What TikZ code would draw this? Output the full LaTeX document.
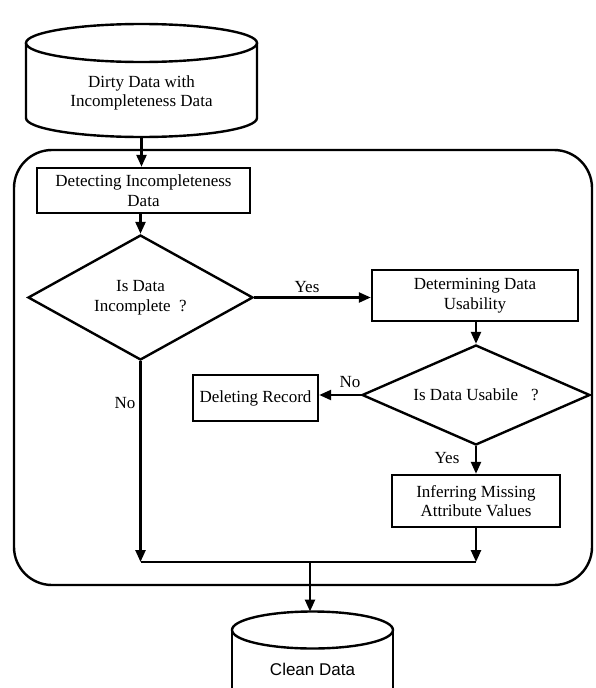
\documentclass[tikz,border=0pt]{standalone}
\usepackage{fontspec}
\setmainfont{Liberation Serif}
\newfontfamily\arialfont{Liberation Sans}
\usetikzlibrary{shapes.geometric,arrows.meta}
\begin{document}
\begin{tikzpicture}[x=1pt,y=-1pt,
  line width=2.4pt,
  every node/.style={font=\fontsize{17}{19.5}\selectfont},
  box/.style={draw, rectangle, inner sep=0pt, align=center},
  decision/.style={draw, diamond, inner sep=0pt, align=center},
  arr/.style={-{Triangle[length=12pt,width=10pt]}},
  lbl/.style={inner sep=0pt}]
\useasboundingbox (0,0) rectangle (595,688);
\clip (0,0) rectangle (595,688);

% container
\draw[rounded corners=38pt] (14,150) rectangle (592,585);

% top cylinder
\draw (26,43) -- (26,118) arc[start angle=180, end angle=0, x radius=115.5, y radius=19] -- (257,43);
\draw (141.5,43) ellipse[x radius=115.5, y radius=19];
\node[align=center] (dirty) at (141.5,93) {Dirty Data with\\Incompleteness Data};
\coordinate (dirtybot) at (141.5,137);

% bottom cylinder
\draw (232,630) -- (232,720);
\draw (393,630) -- (393,720);
\draw (312.5,630) ellipse[x radius=80.5, y radius=18.5];
\node[font=\arialfont\fontsize{17}{19}\selectfont] (clean) at (312.5,669) {Clean Data};
\coordinate (cleantop) at (310,611.5);

% process nodes
\node[box, minimum width=213pt, minimum height=45pt] (detect) at (143.5,190.5) {Detecting Incompleteness\\Data};
\node[decision, aspect=1.8, minimum width=225pt, minimum height=125pt] (inc) at (140.5,297.5) {Is Data\\Incomplete\ \ ?};
\node[box, minimum width=206pt, minimum height=51pt] (usab) at (475,295.5) {Determining Data\\Usability};
\node[decision, aspect=2.28, minimum width=228pt, minimum height=100pt] (usable) at (476,395) {Is Data Usabile\ \ \ ?};
\node[box, minimum width=125pt, minimum height=46pt] (del) at (255.5,398) {Deleting Record};
\node[box, minimum width=168pt, minimum height=52pt] (infer) at (476,501) {Inferring Missing\\Attribute Values};

\coordinate (jl) at (140.5,562);
\coordinate (jr) at (476,562);
\coordinate (jm) at (310,562);

% connectors
\draw[arr] (dirtybot) -- (dirtybot |- detect.north);
\draw[arr] (inc.north |- detect.south) -- (inc.north);
\draw[arr] (inc.east) -- (inc.east -| usab.west);
\draw[arr] (usab.south -| usable.north) -- (usable.north);
\draw[arr] (usable.west) -- (usable.west -| del.east);
\draw[arr] (usable.south) -- (infer.north);
\draw[arr] (infer.south) -- (jr);
\draw[arr] (inc.south) -- (jl);
\draw (jl) -- (jr);
\draw[arr] (jm) -- (cleantop);

% labels
\node[lbl] (yes1) at (307,287) {Yes};
\node[lbl] (no1) at (350,382) {No};
\node[lbl] (yes2) at (447,458) {Yes};
\node[lbl] (no2) at (125,403) {No};
\end{tikzpicture}
\end{document}
